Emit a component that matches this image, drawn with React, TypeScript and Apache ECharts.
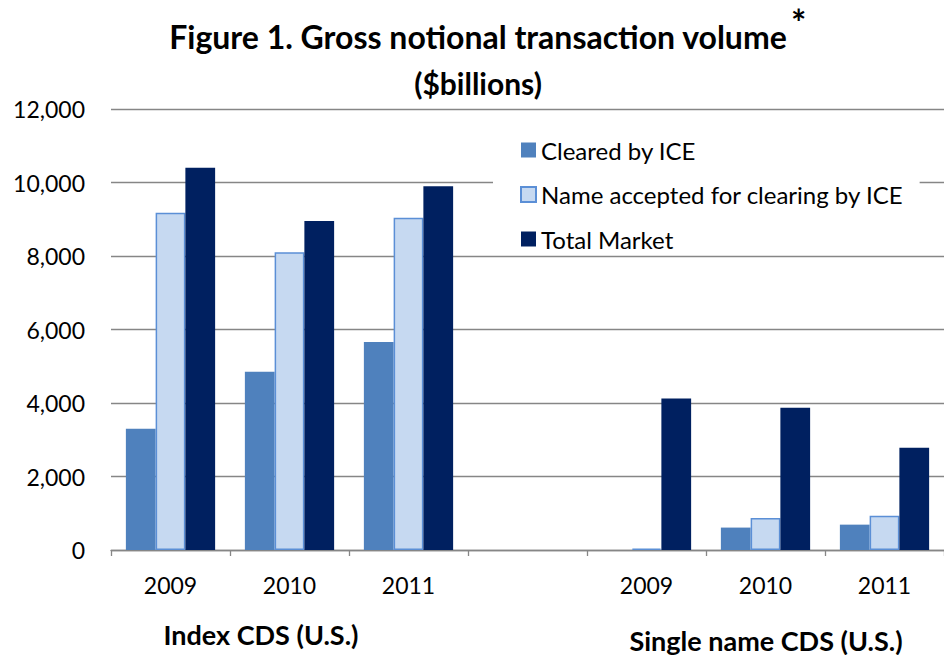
import React, { useEffect, useRef } from "react";
import * as echarts from "echarts";

const categories = ["2009", "2010", "2011", "", "2009", "2010", "2011"];
const clearedByICE = [3300, 4850, 5660, null, 0, 610, 690];
const nameAccepted = [9180, 8100, 9040, null, 40, 870, 930];
const totalMarket = [10400, 8950, 9900, null, 4120, 3870, 2780];
const seriesNames = ["Cleared by ICE", "Name accepted for clearing by ICE", "Total Market"];
const yMin = 0;
const yMax = 12000;
const yInterval = 2000;
const titleLine1 = "Figure 1. Gross notional transaction volume";
const titleLine2 = "($billions)";
const groupTitles = ["Index CDS (U.S.)", "Single name CDS (U.S.)"];

const FONT = "Lato, 'Open Sans', sans-serif";

export default function App() {
  const ref = useRef<HTMLDivElement>(null);
  useEffect(() => {
    if (!ref.current) return;
    const chart = echarts.init(ref.current, null, { renderer: "svg" });
    chart.setOption({
      animation: false,
      backgroundColor: "#fff",
      textStyle: { fontFamily: FONT },
      grid: { left: 111, top: 109, width: 839, bottom: 105, containLabel: false },
      legend: {
        orient: "vertical",
        left: 493,
        top: 126,
        padding: [12, 16, 2, 27],
        backgroundColor: "#fff",
        itemWidth: 15,
        itemHeight: 15,
        itemGap: 20.5,
        icon: "rect",
        data: seriesNames,
        textStyle: { fontSize: 24, lineHeight: 24, color: "#000", fontFamily: FONT },
      },
      xAxis: {
        type: "category",
        data: categories,
        axisLine: { lineStyle: { color: "#868686", width: 1.3 } },
        axisTick: { show: true, length: 6, interval: 0, lineStyle: { color: "#868686", width: 1.3 } },
        axisLabel: {
          interval: 0,
          margin: 35,
          verticalAlign: "middle",
          fontSize: 23,
          color: "#000",
          fontFamily: FONT,
        },
      },
      yAxis: {
        type: "value",
        min: yMin,
        max: yMax,
        interval: yInterval,
        axisLine: { show: false },
        axisTick: { show: false },
        axisLabel: {
          margin: 26,
          fontSize: 23,
          color: "#000",
          fontFamily: FONT,
          formatter: (v: number) => v.toLocaleString("en-US"),
        },
        splitLine: { lineStyle: { color: "#868686", width: 1.3 } },
      },
      series: [
        {
          name: seriesNames[0],
          type: "bar",
          data: clearedByICE,
          barGap: "0%",
          barCategoryGap: "25%",
          itemStyle: { color: "#4F81BD" },
        },
        {
          name: seriesNames[1],
          type: "bar",
          data: nameAccepted,
          barGap: "0%",
          barCategoryGap: "25%",
          itemStyle: { color: "#C6D9F1", borderColor: "#5B8FD6", borderWidth: 1.5 },
        },
        {
          name: seriesNames[2],
          type: "bar",
          data: totalMarket,
          barGap: "0%",
          barCategoryGap: "25%",
          itemStyle: { color: "#002060" },
        },
      ],
      graphic: [
        {
          type: "text",
          x: 478,
          y: 36,
          style: {
            text: titleLine1,
            font: `bold 32px ${FONT}`,
            fill: "#000",
            align: "center",
            verticalAlign: "middle",
          },
        },
        {
          type: "text",
          x: 791,
          y: 22,
          style: {
            text: "*",
            font: `bold 36px ${FONT}`,
            fill: "#000",
            align: "left",
            verticalAlign: "middle",
          },
        },
        {
          type: "text",
          x: 478,
          y: 83,
          style: {
            text: titleLine2,
            font: `bold 30px ${FONT}`,
            fill: "#000",
            align: "center",
            verticalAlign: "middle",
          },
        },
        {
          type: "text",
          x: 261,
          y: 634,
          style: {
            text: groupTitles[0],
            font: `bold 27px ${FONT}`,
            fill: "#000",
            align: "center",
            verticalAlign: "middle",
          },
        },
        {
          type: "text",
          x: 766,
          y: 640,
          style: {
            text: groupTitles[1],
            font: `bold 27px ${FONT}`,
            fill: "#000",
            align: "center",
            verticalAlign: "middle",
          },
        },
      ],
    });
    return () => chart.dispose();
  }, []);
  return (
    <>
      <style>{"svg text { font-variant-ligatures: none; font-feature-settings: 'liga' 0; }"}</style>
      <div ref={ref} style={{ width: 944, height: 655, position: "absolute", left: 0, top: 0 }} />
    </>
  );
}
